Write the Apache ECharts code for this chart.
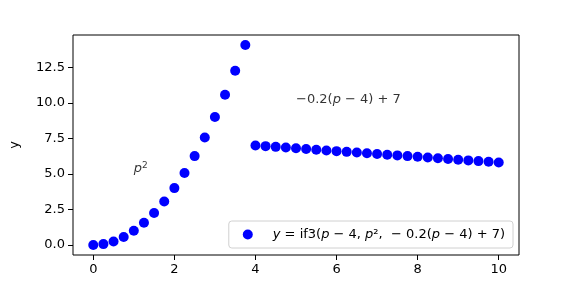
<!DOCTYPE html>
<html><head><meta charset="utf-8">
<script src="https://cdn.jsdelivr.net/npm/echarts@6/dist/echarts.min.js"></script>
<style>html,body{margin:0;padding:0;background:#fff}#c{width:577px;height:287px}</style>
</head><body><div id="c"></div>
<script>
const pValues = [0,0.25,0.5,0.75,1,1.25,1.5,1.75,2,2.25,2.5,2.75,3,3.25,3.5,3.75,
  4,4.25,4.5,4.75,5,5.25,5.5,5.75,6,6.25,6.5,6.75,7,7.25,7.5,7.75,8,8.25,8.5,8.75,9,9.25,9.5,9.75,10];
const yValues = [0,0.0625,0.25,0.5625,1,1.5625,2.25,3.0625,4,5.0625,6.25,7.5625,9,10.5625,12.25,14.0625,
  7,6.95,6.9,6.85,6.8,6.75,6.7,6.65,6.6,6.55,6.5,6.45,6.4,6.35,6.3,6.25,6.2,6.15,6.1,6.05,6,5.95,5.9,5.85,5.8];
const xTicks = [0,2,4,6,8,10];
const yTicks = [0,2.5,5,7.5,10,12.5];
const annotations = [
  {pos:[1,5], text:'{i|p}{s|2}'},
  {pos:[5,10], text:'{n|−0.2(}{i|p}{n| − 4) + 7}'}
];
const seriesName = 'y = if3(p − 4, p², − 0.2(p − 4) + 7)';

const FONT = 'DejaVu Sans';
const rich = {
  i:{fontFamily:FONT,fontSize:13,fontStyle:'italic',color:'#000'},
  n:{fontFamily:FONT,fontSize:13,color:'#000'},
  s:{fontFamily:FONT,fontSize:9,color:'#000',verticalAlign:'top',padding:[0,0,7,0]}
};
const chart = echarts.init(document.getElementById('c'));
chart.setOption({
  animation:false,
  grid:{left:72,right:58,top:35,bottom:32,show:true,borderColor:'#000',borderWidth:1,backgroundColor:'transparent'},
  xAxis:{type:'value',min:-0.5,max:10.5,splitLine:{show:false},
    axisLine:{show:false,onZero:false},
    axisTick:{show:true,inside:false,length:5,customValues:xTicks,lineStyle:{color:'#000'}},
    axisLabel:{customValues:xTicks,color:'#000',fontFamily:FONT,fontSize:13,margin:8}},
  yAxis:{type:'value',min:-0.703,max:14.766,splitLine:{show:false},
    name:'y',nameLocation:'middle',nameGap:52,nameTextStyle:{color:'#000',fontFamily:FONT,fontSize:13},
    axisLine:{show:false,onZero:false},
    axisTick:{show:true,inside:false,length:5,customValues:yTicks,lineStyle:{color:'#000'}},
    axisLabel:{customValues:yTicks,color:'#000',fontFamily:FONT,fontSize:13,margin:8,formatter:v=>v.toFixed(1)}},
  legend:{right:64,bottom:39,orient:'vertical',
    data:[{name:seriesName,icon:'circle'}],
    itemWidth:10,itemHeight:10,
    padding:[7,8,7,14],borderColor:'#d0d0d0',borderWidth:1,borderRadius:3,backgroundColor:'rgba(255,255,255,0.8)',
    formatter:()=>'{i|y}{n| = if3(}{i|p}{n| − 4, }{i|p}{n|²,  − 0.2(}{i|p}{n| − 4) + 7)}',
    textStyle:{padding:[0,0,0,15],rich:rich}},
  series:[
    {name:seriesName,type:'scatter',symbol:'circle',symbolSize:10,
     itemStyle:{color:'#0000ff',opacity:1},
     data:pValues.map((p,i)=>[p,yValues[i]])},
    {type:'scatter',symbolSize:0,silent:true,
     data:annotations.map(a=>({value:a.pos,label:{show:true,position:[0,0],offset:[0,3],align:'left',verticalAlign:'bottom',formatter:a.text,rich:rich}}))}
  ]
});
</script></body></html>
